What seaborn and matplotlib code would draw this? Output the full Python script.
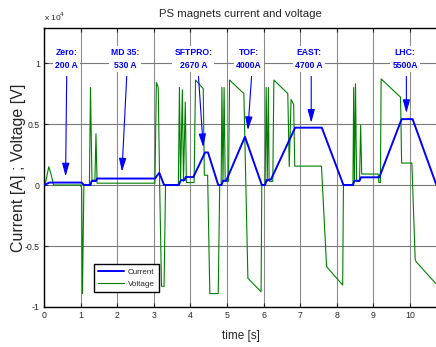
import matplotlib

matplotlib.use("Agg")
import matplotlib.pyplot as plt
import numpy as np
import pandas as pd
import seaborn as sns

# current trace [A]
cur_t = [0.0, 0.15, 1.02, 1.10, 1.27, 1.30, 1.42, 1.45, 3.03, 3.15, 3.28, 3.68, 3.74, 3.84, 3.87,
         4.08, 4.40, 4.48, 4.76, 4.85, 4.89, 4.98, 5.02, 5.49, 5.95, 6.04, 6.08, 6.20, 6.86, 7.59,
         8.18, 8.44, 8.48, 8.62, 8.66, 9.16, 9.77, 10.07, 10.72]
cur_a = [0, 200, 200, 0, 0, 330, 330, 530, 530, 1000, 0, 0, 400, 400, 650,
         650, 2670, 2670, 0, 0, 350, 350, 650, 3950, 0, 0, 400, 450, 4700, 4700,
         0, 0, 350, 350, 630, 630, 5400, 5400, 0]

# voltage trace [V]
volt_t = [0.0, 0.05, 0.13, 0.20, 0.26, 1.00, 1.03, 1.05, 1.09, 1.24, 1.27, 1.31, 1.39, 1.42, 1.45,
          3.03, 3.07, 3.12, 3.16, 3.21, 3.28, 3.32, 3.67, 3.70, 3.73, 3.78, 3.81, 3.86, 3.89,
          4.10, 4.14, 4.35, 4.38, 4.47, 4.53, 4.76, 4.80, 4.84, 4.86, 4.89, 4.92, 4.95, 5.04,
          5.07, 5.46, 5.57, 5.93, 5.95, 6.04, 6.07, 6.10, 6.13, 6.15, 6.25, 6.28, 6.66, 6.70,
          6.75, 6.82, 6.85, 7.58, 7.72, 8.16, 8.18, 8.44, 8.46, 8.48, 8.51, 8.54, 8.62, 8.65,
          8.68, 9.13, 9.15, 9.19, 9.21, 9.74, 9.77, 10.05, 10.14, 10.17, 10.68, 10.72]
volt_v = [0, 300, 1500, 800, 0, 0, -300, -8900, 0, 0, 8000, 400, 400, 4200, 150,
          150, 8400, 8000, 0, -8300, -8300, 0, 0, 8000, 300, 7800, 300, 6800, 200,
          200, 8600, 7900, 800, 800, -8900, -8900, 0, 0, 8000, 300, 8000, 300, 300,
          8600, 7500, -7650, -8750, 0, 0, 8000, 300, 8000, 300, 300, 8600, 7500, 1500,
          7000, 6600, 1550, 1550, -6700, -8200, 0, 0, 8000, 300, 8300, 300, 300, 4900,
          900, 900, 200, 200, 8700, 7200, 1800, 1800, -6100, -6300, -8000, -8100]

# annotations
ann_labels = ["Zero:\n200 A", "MD 35:\n530 A", "SFTPRO:\n2670 A", "TOF:\n4000A", "EAST:\n4700 A", "LHC:\n5500A"]
ann_text_t = [0.62, 2.21, 4.08, 5.59, 7.23, 9.87]
ann_tail_t = [0.62, 2.26, 4.22, 5.67, 7.30, 9.90]
ann_tip_t = [0.59, 2.13, 4.35, 5.57, 7.30, 9.90]
ann_tip_v = [700, 1100, 3100, 4500, 5100, 5900]

x_ticks = list(range(0, 11))
y_ticks = [-1, -0.5, 0, 0.5, 1]
y_tick_labels = ["-1", "-0.5", "0", "0.5", "1"]

FONT = ["Liberation Sans", "DejaVu Sans"]


def main() -> None:
    sns.set_style("ticks")
    plt.rcParams["font.family"] = FONT

    cur_df = pd.DataFrame({"time": cur_t, "value": np.array(cur_a) / 1e4})
    volt_df = pd.DataFrame({"time": volt_t, "value": np.array(volt_v) / 1e4})

    fig = plt.figure(figsize=(4.36, 3.47), dpi=100)
    ax = fig.add_axes([44 / 436, 40 / 347, 393.5 / 436, 279 / 347])

    for t in x_ticks:
        ax.axvline(t, color="#8c8c8c", lw=0.8, zorder=0)
    for v in y_ticks:
        ax.axhline(v, color="#7a7a7a", lw=0.8, zorder=0)

    sns.lineplot(data=volt_df, x="time", y="value", color="#008000", lw=0.8,
                 estimator=None, sort=False, ax=ax, zorder=2)
    sns.lineplot(data=cur_df, x="time", y="value", color="#0000ff", lw=1.4,
                 estimator=None, sort=False, ax=ax, zorder=3)

    for label, tx, tail, tip, tipv in zip(ann_labels, ann_text_t, ann_tail_t, ann_tip_t, ann_tip_v):
        ax.text(tx, 1.033, label, ha="center", va="center", color="#0000ff", fontsize=6.2,
                fontweight="bold", linespacing=1.6, zorder=5,
                bbox=dict(facecolor="white", edgecolor="none", pad=1.5))
        ax.annotate("", xy=(tip, tipv / 1e4), xytext=(tail, 0.89), zorder=4,
                    arrowprops=dict(arrowstyle="-|>,head_length=0.8,head_width=0.22",
                                    color="#0000ff", lw=0.8, mutation_scale=10,
                                    shrinkA=0, shrinkB=0))

    ax.set_xlim(0, 10.75)
    ax.set_ylim(-1.0, 1.287)
    ax.set_xticks(x_ticks)
    ax.set_yticks(y_ticks)
    ax.set_yticklabels(y_tick_labels)
    ax.tick_params(direction="in", length=3, width=0.8, labelsize=6.3, top=True, pad=3)
    for side in ["left", "bottom", "top"]:
        ax.spines[side].set_color("black")
        ax.spines[side].set_linewidth(1.0)
    ax.spines["right"].set_visible(False)

    ax.set_title("PS magnets current and voltage", fontsize=8.2, pad=8)
    ax.set_xlabel("time [s]", fontsize=8.5, labelpad=7)
    ax.set_ylabel("Current [A] ; Voltage [V]", fontsize=11.5)
    ax.yaxis.set_label_coords(-0.045, 0.5)
    fig.text(44 / 436, 1 - 17 / 347, r"x 10$^4$", fontsize=6, ha="left", va="center")

    handles = [plt.Line2D([], [], color="#0000ff", lw=1.4), plt.Line2D([], [], color="#008000", lw=0.8)]
    leg = ax.legend(handles, ["Current", "Voltage"], loc="lower left", bbox_to_anchor=(0.117, 0.039),
                    fontsize=5.8, frameon=True, fancybox=False, framealpha=1, edgecolor="black",
                    handlelength=3.2, borderpad=0.5, labelspacing=0.6, handletextpad=0.5)
    leg.get_frame().set_linewidth(1.0)

    fig.savefig("out.png", dpi=100)
    plt.close(fig)


if __name__ == "__main__":
    main()
